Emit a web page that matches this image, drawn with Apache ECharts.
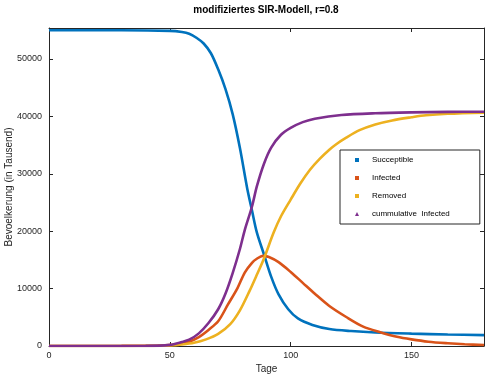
<!DOCTYPE html>
<html><head><meta charset="utf-8">
<script src="https://cdn.jsdelivr.net/npm/echarts@6/dist/echarts.min.js"></script>
<style>html,body{margin:0;padding:0;background:#fff}#c{width:500px;height:375px}</style>
</head><body><div id="c"></div>
<script>
const titleText = 'modifiziertes SIR-Modell, r=0.8';
const xName = 'Tage';
const yName = 'Bevoelkerung (in Tausend)';
const seriesNames = ['Succeptible', 'Infected', 'Removed', 'cummulative  Infected'];
const colors = ['#0072BD', '#D95319', '#EDB120', '#7E2F8E'];

const susDays = [0, 30, 50, 55, 58, 61, 64, 67, 70, 73, 76, 79, 82, 84, 86, 89, 92, 95, 99, 103, 109, 116, 125, 135, 150, 165, 180];
const susVals = [55000, 55000, 54900, 54700, 54400, 53700, 52700, 51000, 48200, 44800, 40400, 34500, 27500, 23600, 19800, 15900, 12000, 9000, 6400, 4800, 3660, 2960, 2600, 2350, 2150, 2000, 1900];

const infDays = [0, 30, 45, 50, 55, 58, 62, 66, 70, 74, 78, 81, 84, 86, 88.5, 91, 95, 100, 105, 110, 116, 123, 130, 137, 144, 150, 157, 165, 172, 180];
const infVals = [10, 20, 60, 150, 450, 750, 1550, 2800, 4300, 7200, 10100, 12800, 14500, 15200, 15700, 15500, 14600, 12900, 11000, 9100, 6970, 5050, 3370, 2400, 1600, 1150, 750, 480, 300, 170];

const remDays = [0, 40, 50, 55, 60, 65, 70, 75, 79, 83, 86, 89, 93, 96, 100, 104, 108, 112, 116, 119, 123, 128.5, 135, 142, 150, 156, 165, 180];
const remVals = [0, 20, 80, 250, 550, 1150, 2100, 3800, 6200, 9600, 12400, 15300, 19800, 22600, 25500, 28300, 30700, 32600, 34200, 35200, 36300, 37600, 38600, 39300, 39850, 40200, 40450, 40650];

const cumDays = [0, 40, 50, 55, 58, 62, 66, 70, 73, 76, 79, 81, 84, 86, 89, 92, 96, 100, 105, 110, 121, 135, 150, 165, 180];
const cumVals = [0, 30, 200, 700, 1100, 2200, 4000, 6400, 9100, 12700, 16900, 20200, 24300, 27800, 31800, 34600, 36800, 38000, 39000, 39600, 40250, 40550, 40700, 40780, 40820];

const xTicks = [0, 50, 100, 150];
const yTicks = [0, 10000, 20000, 30000, 40000, 50000];

const pairs = (d, v) => d.map((x, i) => [x, v[i]]);
const allData = [pairs(susDays, susVals), pairs(infDays, infVals), pairs(remDays, remVals), pairs(cumDays, cumVals)];

const axisCol = '#262626';
const font = 'Liberation Sans, Arial, Helvetica, sans-serif';
const chart = echarts.init(document.getElementById('c'), null, {renderer: 'canvas'});

function baseX(pos, showLabel) {
  return {
    type: 'value', position: pos, min: 0, max: 180, interval: 50,
    axisLine: {show: true, onZero: false, lineStyle: {color: axisCol, width: 1}},
    axisTick: {show: true, inside: true, length: 4, lineStyle: {color: axisCol}},
    axisLabel: {show: showLabel, color: axisCol, fontSize: 9, fontFamily: font, margin: 5, showMaxLabel: false,
      formatter: v => xTicks.includes(v) ? String(v) : ''},
    splitLine: {show: false}
  };
}
function baseY(pos, showLabel) {
  return {
    type: 'value', position: pos, min: 0, max: 55400, interval: 10000,
    axisLine: {show: true, onZero: false, lineStyle: {color: axisCol, width: 1}},
    axisTick: {show: true, inside: true, length: 4, lineStyle: {color: axisCol}},
    axisLabel: {show: showLabel, color: axisCol, fontSize: 9, fontFamily: font, margin: 7, showMaxLabel: false,
      formatter: v => yTicks.includes(v) ? String(v) : ''},
    splitLine: {show: false}
  };
}

const xa = baseX('bottom', true);
xa.name = xName; xa.nameLocation = 'middle'; xa.nameGap = 18; xa.nameMoveOverlap = false;
xa.nameTextStyle = {color: axisCol, fontSize: 10, fontFamily: font};
const ya = baseY('left', true);
ya.name = yName; ya.nameLocation = 'middle'; ya.nameGap = 35; ya.nameMoveOverlap = false;
ya.nameTextStyle = {color: axisCol, fontSize: 10, fontFamily: font};

chart.setOption({
  animation: false,
  backgroundColor: '#fff',
  title: {text: titleText, left: 266, top: 5, textAlign: 'center', padding: 0,
    textStyle: {fontSize: 10, fontWeight: 'bold', color: '#000', fontFamily: font}},
  grid: {left: 49, right: 16, top: 28, bottom: 29, containLabel: false, outerBoundsMode: 'none'},
  xAxis: [xa, baseX('top', false)],
  yAxis: [ya, baseY('right', false)],
  legend: {
    orient: 'vertical', left: 340, top: 150,
    borderColor: axisCol, borderWidth: 1, backgroundColor: '#fff', borderRadius: 0,
    padding: [6, 30, 6, 15], itemGap: 10, itemWidth: 4, itemHeight: 4,
    textStyle: {fontSize: 8, color: '#000', fontFamily: font, padding: [0, 0, 0, 8]},
    data: [
      {name: seriesNames[0], icon: 'rect'},
      {name: seriesNames[1], icon: 'rect'},
      {name: seriesNames[2], icon: 'rect'},
      {name: seriesNames[3], icon: 'triangle'}
    ]
  },
  series: allData.map((d, i) => ({
    name: seriesNames[i], type: 'line', data: d, xAxisIndex: 0, yAxisIndex: 0,
    showSymbol: false, symbol: 'none', smooth: 0.3,
    lineStyle: {color: colors[i], width: 2.6}, itemStyle: {color: colors[i]},
    z: 2 + i
  }))
});
</script></body></html>
